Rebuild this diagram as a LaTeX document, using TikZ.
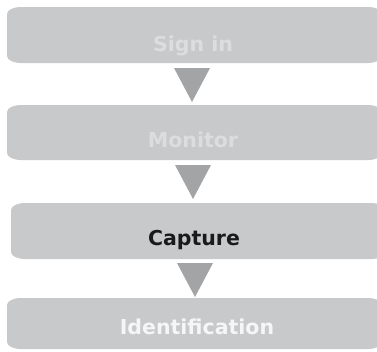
\documentclass[tikz,border=0pt]{standalone}
\usepackage{fontspec}
\setmainfont{DejaVu Sans}
\definecolor{boxgray}{HTML}{C8C9CB}
\definecolor{arrowgray}{HTML}{A3A4A6}
\definecolor{fadetext}{HTML}{DCDDDE}
\definecolor{darktext}{HTML}{1A1A1A}
\definecolor{whitetext}{HTML}{F6F6F6}
\newcommand{\flowbox}[4]{%
  \fill[boxgray] (#1pt+14pt,-#2pt) -- (#3pt-14pt,-#2pt)
    arc[start angle=90,end angle=0,x radius=14pt,y radius=7pt]
    -- (#3pt,-#4pt+7pt)
    arc[start angle=0,end angle=-90,x radius=14pt,y radius=7pt]
    -- (#1pt+14pt,-#4pt)
    arc[start angle=270,end angle=180,x radius=14pt,y radius=7pt]
    -- (#1pt,-#2pt-7pt)
    arc[start angle=180,end angle=90,x radius=14pt,y radius=7pt] -- cycle;}
\begin{document}
\begin{tikzpicture}[x=1pt,y=1pt,
  lbl/.style={font=\bfseries\fontsize{20.5}{24}\selectfont,anchor=base,inner sep=0pt},
  tri/.style={fill=arrowgray}]
\useasboundingbox (0,0) rectangle (377,-351);
\clip (0,0) rectangle (377,-351);
\flowbox{7}{7}{382}{63}
\flowbox{7}{105}{382}{160}
\flowbox{11}{203}{385}{259}
\flowbox{7}{298}{382}{349}
\node[lbl,text=fadetext] (signin) at (193,-51) {Sign in};
\node[lbl,text=fadetext] (monitor) at (193,-147) {Monitor};
\node[lbl,text=darktext] (capture) at (194,-245) {Capture};
\node[lbl,text=whitetext] (ident) at (197,-334) {Identification};
\coordinate (t1l) at (174,-68); \coordinate (t1r) at (210,-68); \coordinate (t1a) at (192,-102);
\coordinate (t2l) at (175,-165); \coordinate (t2r) at (211,-165); \coordinate (t2a) at (193,-199);
\coordinate (t3l) at (177,-263); \coordinate (t3r) at (213,-263); \coordinate (t3a) at (195,-297);
\fill[tri] (t1l) -- (t1r) -- (t1a) -- cycle;
\fill[tri] (t2l) -- (t2r) -- (t2a) -- cycle;
\fill[tri] (t3l) -- (t3r) -- (t3a) -- cycle;
\end{tikzpicture}
\end{document}
